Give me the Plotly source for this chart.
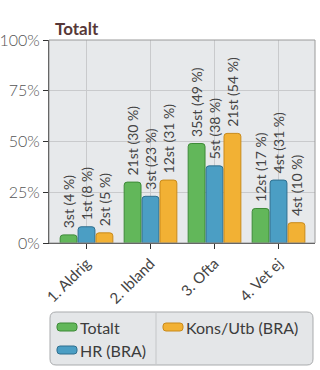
import plotly.graph_objects as go

categories = ["1. Aldrig", "2. Ibland", "3. Ofta", "4. Vet ej"]
series_names = ["Totalt", "HR (BRA)", "Kons/Utb (BRA)"]
totalt_pct = [4, 30, 49, 17]
totalt_n = [3, 21, 35, 12]
hr_pct = [8, 23, 38, 31]
hr_n = [1, 3, 5, 4]
kons_pct = [5, 31, 54, 10]
kons_n = [2, 12, 21, 4]
y_ticks = [0, 25, 50, 75, 100]
y_tick_labels = ["0%", "25%", "50%", "75%", "100%"]

fills = ["#62b75a", "#4b9ec4", "#f2b134"]
edges = ["#3d8a37", "#2f6f8f", "#c98a1a"]

fig = go.Figure()
for name, pct, n, fc, ec in zip(series_names, [totalt_pct, hr_pct, kons_pct],
                                [totalt_n, hr_n, kons_n], fills, edges):
    fig.add_trace(go.Bar(
        x=categories, y=pct, name=name, showlegend=False,
        text=[f"\u00a0{a}st ({b} %)" for a, b in zip(n, pct)],
        textposition="outside", textangle=-90,
        textfont=dict(family="Lato, sans-serif", size=14, color="#444"),
        constraintext="none", cliponaxis=False,
        marker=dict(color=fc, line=dict(color=ec, width=1), cornerradius=3),
    ))

W, H = 320, 370
L, R, T, B = 49, 5, 40, 127
pw, ph = W - L - R, H - T - B

def px(x):
    return (x - L) / pw

def py(y):
    return (H - B - y) / ph

def rounded(xa, xb, ya, yb, r):
    x0, x1, y0, y1 = px(xa), px(xb), py(ya), py(yb)
    rx, ry = r / pw, r / ph
    return (f"M {x0+rx},{y0} L {x1-rx},{y0} Q {x1},{y0} {x1},{y0-ry} "
            f"L {x1},{y1+ry} Q {x1},{y1} {x1-rx},{y1} L {x0+rx},{y1} "
            f"Q {x0},{y1} {x0},{y1+ry} L {x0},{y0-ry} Q {x0},{y0} {x0+rx},{y0} Z")

shapes = [
    dict(type="path", xref="paper", yref="paper", path=rounded(50, 313, 312, 365, 6),
         fillcolor="#e4e6e8", line=dict(color="#a9abad", width=1), layer="below"),
    dict(type="line", xref="paper", yref="paper", x0=px(156), x1=px(156),
         y0=py(313), y1=py(364), line=dict(color="#c4c6c8", width=1)),
    dict(type="rect", xref="paper", yref="paper", x0=0, x1=1, y0=0, y1=1,
         line=dict(color="#9a9a9a", width=1), layer="above"),
]
annotations = [dict(text="<b>Totalt</b>", xref="paper", yref="paper",
                    x=px(53), y=py(28), xanchor="left", yanchor="middle",
                    showarrow=False,
                    font=dict(family="Lato, sans-serif", size=17, color="#573838"))]

# legend entries: (swatch left x, row centre y) per series
legend_pos = [(57, 327), (57, 350), (163, 327)]
for name, fc, ec, (lx, ly) in zip(series_names, fills, edges, legend_pos):
    shapes.append(dict(type="path", xref="paper", yref="paper",
                       path=rounded(lx, lx + 20, ly - 4, ly + 4, 3),
                       fillcolor=fc, line=dict(color=ec, width=1)))
    annotations.append(dict(text=name, xref="paper", yref="paper",
                            x=px(lx + 21), y=py(ly), xanchor="left", yanchor="middle",
                            showarrow=False,
                            font=dict(family="Lato, sans-serif", size=16, color="#3c3c3c")))

fig.update_layout(
    width=W, height=H,
    margin=dict(l=L, r=R, t=T, b=B, autoexpand=False),
    paper_bgcolor="white",
    plot_bgcolor="#e7e9eb",
    barmode="group", bargap=0.16, bargroupgap=0.06,
    font=dict(family="Lato, sans-serif", color="#555"),
    showlegend=False,
    shapes=shapes,
    annotations=annotations,
    xaxis=dict(range=[-0.586, 3.57], showgrid=True, gridcolor="#c9cacc",
               ticks="outside", ticklen=5, tickcolor="#333", tickangle=-45,
               showline=True, linecolor="#333", linewidth=1,
               tickfont=dict(family="Lato, sans-serif", size=15, color="#444")),
    yaxis=dict(range=[0, 100], tickvals=y_ticks, ticktext=y_tick_labels,
               showgrid=True, gridcolor="#c9cacc", zeroline=False,
               ticks="outside", ticklen=5, tickcolor="#333",
               showline=True, linecolor="#333", linewidth=1,
               tickfont=dict(family="Lato, sans-serif", size=16, color="#555",
                             weight=300)),
)

fig.write_html("out.html")
